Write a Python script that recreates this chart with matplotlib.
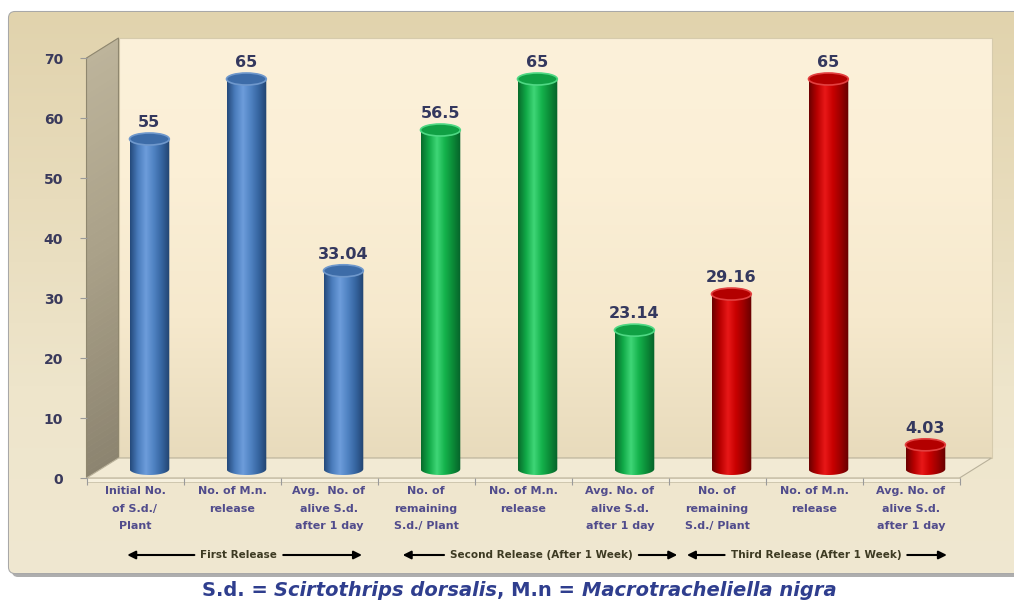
import numpy as np
import matplotlib
matplotlib.use("Agg")
import matplotlib.pyplot as plt
from matplotlib.patches import Polygon, Ellipse, PathPatch, FancyBboxPatch, Rectangle
from matplotlib.path import Path
from matplotlib.colors import LinearSegmentedColormap
from matplotlib import transforms as mtrans

# data
categories = ["Initial No.\nof S.d./\nPlant", "No. of M.n.\nrelease", "Avg.  No. of\nalive S.d.\nafter 1 day",
              "No. of\nremaining\nS.d./ Plant", "No. of M.n.\nrelease", "Avg. No. of\nalive S.d.\nafter 1 day",
              "No. of\nremaining\nS.d./ Plant", "No. of M.n.\nrelease", "Avg. No. of\nalive S.d.\nafter 1 day"]
values = [55, 65, 33.04, 56.5, 65, 23.14, 29.16, 65, 4.03]
value_labels = ["55", "65", "33.04", "56.5", "65", "23.14", "29.16", "65", "4.03"]
bar_group = [0, 0, 0, 1, 1, 1, 2, 2, 2]
groups = ["First Release", "Second Release (After 1 Week)", "Third Release (After 1 Week)"]
group_spans = [(-0.08, 2.34), (2.76, 5.59), (5.69, 8.37)]
group_centers = [1.07, 4.19, 7.02]
y_ticks = [0, 10, 20, 30, 40, 50, 60, 70]
caption = [("S.d. = ", "normal"), ("Scirtothrips dorsalis", "italic"),
           (", M.n = ", "normal"), ("Macrotracheliella nigra", "italic")]

# cylinder shading per release: left edge -> highlight -> right edge
shades = [
    (["#24497a", "#4a7cbc", "#6d9ddb", "#4f82c2", "#35649f", "#21426e"], "#3d6ca8", "#6f98cc"),
    (["#086a2b", "#10a947", "#3fd677", "#14b24c", "#0b8a37", "#06612a"], "#10a044", "#4fd884"),
    (["#6a0000", "#b80000", "#e81818", "#c80000", "#9a0000", "#640000"], "#b30000", "#e24040"),
]

W, H, DPI = 1014, 603, 100
fig = plt.figure(figsize=(W / DPI, H / DPI), dpi=DPI)
fig.patch.set_facecolor("white")

# background axes in pixel units
bg = fig.add_axes([0, 0, 1, 1], zorder=-10)
bg.set_xlim(0, W)
bg.set_ylim(H, 0)
bg.axis("off")

shadow = FancyBboxPatch((12, 16), W, 561, boxstyle="round,pad=0,rounding_size=6",
                        facecolor="#9a9a9a", edgecolor="none", alpha=0.8)
bg.add_patch(shadow)
frame = FancyBboxPatch((9, 12), W, 561, boxstyle="round,pad=0,rounding_size=6",
                       facecolor="#e8ddbf", edgecolor="#a8a8a8", lw=1.5)
bg.add_patch(frame)
fcmap = LinearSegmentedColormap.from_list("frame", ["#e1d3ad", "#e8dcbc", "#eee5cb", "#f0e8d1"])
im = bg.imshow(np.linspace(0, 1, 256).reshape(-1, 1), extent=(9, W, 573, 12), cmap=fcmap,
               aspect="auto", zorder=1)
im.set_clip_path(frame)

# main axes: front plane of the 3D chart
x0, x1, ytop, ybot = 86.5, 959.5, 58, 478
ax = fig.add_axes([x0 / W, (H - ybot) / H, (x1 - x0) / W, (ybot - ytop) / H])
ax.set_xlim(-0.5, 8.5)
ax.set_ylim(0, 70)
ax.patch.set_visible(False)
for s in ax.spines.values():
    s.set_visible(False)

DX, DY = 32, 20  # depth of the chart in pixels
ident = mtrans.IdentityTransform()


def depth_tr(d):
    return ax.transData + mtrans.ScaledTranslation(d * DX / DPI, d * DY / DPI, fig.dpi_scale_trans)


def P(x, y, d):
    px = ax.transData.transform((x, y))
    return (px[0] + d * DX, px[1] + d * DY)


# back wall
back_tr = depth_tr(1)
wall = Rectangle((-0.5, 0), 9, 70, transform=back_tr, facecolor="none", edgecolor="#d6cbad", lw=0.8,
                 zorder=1, clip_on=False)
ax.add_patch(wall)
wcmap = LinearSegmentedColormap.from_list("wall", ["#fcf1da", "#fbefd6", "#f6e9cd", "#e8dbbc"])
wim = ax.imshow(np.linspace(0, 1, 256).reshape(-1, 1), extent=(-0.5, 8.5, 0, 70), cmap=wcmap,
                aspect="auto", transform=back_tr, zorder=0.5, origin="upper", clip_on=False)
wim.set_clip_path(wall)

# side wall, shaded in horizontal bands
scmap = LinearSegmentedColormap.from_list("side", ["#bdb49b", "#a9a088", "#8c8470"])
nb = 70
edges = np.linspace(0, 70, nb + 1)
for k in range(nb):
    ya, yb = edges[k], edges[k + 1]
    c = scmap(1 - k / nb)
    ax.add_patch(Polygon([P(-0.5, ya, 0), P(-0.5, yb, 0), P(-0.5, yb, 1), P(-0.5, ya, 1)], closed=True,
                         transform=ident, facecolor=c, edgecolor=c, lw=0.5, zorder=0.6, clip_on=False))
ax.add_patch(Polygon([P(-0.5, 0, 0), P(-0.5, 70, 0), P(-0.5, 70, 1), P(-0.5, 0, 1)], closed=True,
                     transform=ident, facecolor="none", edgecolor="#8f876f", lw=0.8, zorder=1, clip_on=False))

# floor
floor_pts = [P(-0.5, 0, 0), P(8.5, 0, 0), P(8.5, 0, 1), P(-0.5, 0, 1)]
ax.add_patch(Polygon(floor_pts, closed=True, transform=ident, facecolor="#f2ead4",
                     edgecolor="#b9b19a", lw=0.8, zorder=1.5, clip_on=False))
fl, fr = P(-0.5, 0, 0), P(8.5, 0, 0)
ax.add_patch(Polygon([fl, fr, (fr[0], fr[1] - 4), (fl[0], fl[1] - 4)], closed=True, transform=ident,
                     facecolor="#f6f0de", edgecolor="#c9c0a8", lw=0.6, zorder=1.5, clip_on=False))

# cylinders
bar_tr = depth_tr(0.45)
bw, eh = 0.41, 2.0
t = np.linspace(np.pi, 2 * np.pi, 50)
for i, v in enumerate(values):
    stops, top_c, rim_c = shades[bar_group[i]]
    cmap = LinearSegmentedColormap.from_list("c%d" % i, stops)
    left, right = i - bw / 2, i + bw / 2
    verts = [(left, v)] + list(zip(i + bw / 2 * np.cos(t), eh / 2 * np.sin(t))) + [(right, v), (left, v)]
    codes = [Path.MOVETO] + [Path.LINETO] * (len(verts) - 2) + [Path.CLOSEPOLY]
    body = PathPatch(Path(verts, codes), transform=bar_tr, facecolor="none", edgecolor="none", zorder=3)
    ax.add_patch(body)
    bim = ax.imshow(np.linspace(0, 1, 256).reshape(1, -1), extent=(left, right, -eh / 2, v), cmap=cmap,
                    aspect="auto", transform=bar_tr, zorder=3)
    bim.set_clip_path(body)
    ax.add_patch(Ellipse((i, v), bw, eh, transform=bar_tr, facecolor=top_c, edgecolor=rim_c, lw=1.2, zorder=4))
    ax.text(i, v, value_labels[i], transform=bar_tr + mtrans.ScaledTranslation(0, 0.09, fig.dpi_scale_trans),
            ha="center", va="bottom", fontsize=11.5, fontweight="bold", family="DejaVu Sans",
            color="#34385e", zorder=5)

ax.set_xlim(-0.5, 8.5)
ax.set_ylim(0, 70)

# axis ticks
ax.set_yticks(y_ticks)
ax.set_yticklabels([str(v) for v in y_ticks], fontsize=10, fontweight="bold", family="DejaVu Sans",
                   color="#3a3a5c")
ax.tick_params(axis="y", length=5, width=0.8, color="#9a9a9a", pad=12)
ax.set_xticks(range(len(categories)))
ax.set_xticklabels(categories, fontsize=8, fontweight="bold", family="DejaVu Sans", color="#514c8c",
                   linespacing=1.9)
ax.set_xticks(np.arange(-0.5, 9, 1), minor=True)
ax.tick_params(axis="x", which="major", length=0, pad=6)
ax.tick_params(axis="x", which="minor", length=5, width=0.8, color="#9a9a9a")

# release group labels with arrows
renderer = fig.canvas.get_renderer()
grp_tr = ax.transData + mtrans.ScaledTranslation(0, -0.77, fig.dpi_scale_trans)
for name, (s, e), c in zip(groups, group_spans, group_centers):
    txt = ax.text(c, 0, name, transform=grp_tr, ha="center", va="center", fontsize=7.5, fontweight="bold",
                  family="DejaVu Sans", color="#3d3a22", clip_on=False)
    bb = txt.get_window_extent(renderer)
    lx = ax.transData.inverted().transform((bb.x0 - 6, 0))[0]
    rx = ax.transData.inverted().transform((bb.x1 + 6, 0))[0]
    for a, b in ((lx, s), (rx, e)):
        ax.annotate("", xy=(b, 0), xytext=(a, 0), xycoords=grp_tr, textcoords=grp_tr,
                    arrowprops=dict(arrowstyle="-|>", color="black", lw=1.5, mutation_scale=12,
                                    shrinkA=0, shrinkB=0), annotation_clip=False)

# caption
pieces = []
for s, style in caption:
    pieces.append(bg.text(0, 596, s, fontsize=14, fontweight="bold", style=style, family="DejaVu Sans",
                          color="#2f3e8e", va="baseline", ha="left"))
widths = [p.get_window_extent(renderer).width for p in pieces]
x = 519 - sum(widths) / 2
for p, w in zip(pieces, widths):
    p.set_x(x)
    x += w

fig.savefig("out.png", dpi=DPI, facecolor="white")
